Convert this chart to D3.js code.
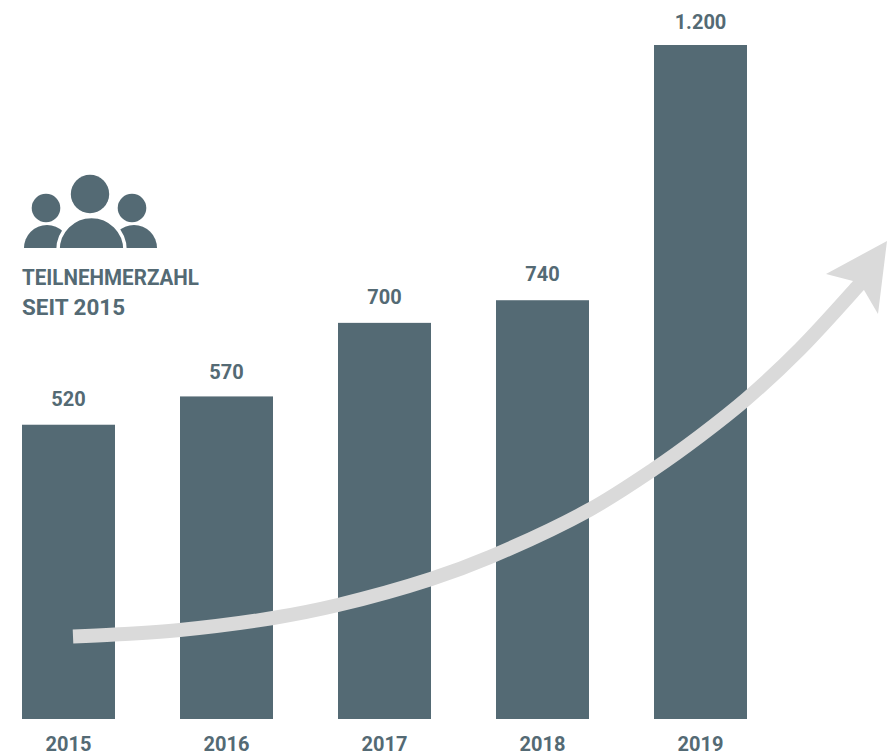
<!DOCTYPE html>
<html>
<head>
<meta charset="utf-8">
<script src="https://cdn.jsdelivr.net/npm/d3@7"></script>
<style>
html, body { margin: 0; padding: 0; background: #fff; overflow: hidden; }
svg { display: block; }
text { font-family: Roboto, sans-serif; font-weight: 700; fill: #546a74; }
</style>
</head>
<body>
<script>
var width = 887,
    height = 752;

var years = ["2015", "2016", "2017", "2018", "2019"];
var barValues = [520, 570, 700, 740, 1191]; // measured from bar lengths, the last bar is a bit short of its label
var barLabels = ["520", "570", "700", "740", "1.200"];
var labelGaps = [19, 17, 19, 19, 16];

// Trend arrow, pixels
var trendX = [73, 115, 180, 273, 338, 431, 490, 589, 654, 700, 747, 800, 858, 872];
var trendY = [636.5, 634.5, 630, 618, 605, 579, 557, 510, 469, 436, 398.5, 349, 286, 270];
var headX = [887, 826, 853, 864, 878];
var headY = [241, 274, 281, 290, 314];

var barColor = "#546a74",
    arrowColor = "#dadada";

var svg = d3.select("body").append("svg")
    .attr("width", width)
    .attr("height", height);

var x = d3.scaleBand()
    .domain(years)
    .range([22, 747])
    .paddingInner(65 / 158)
    .paddingOuter(0);

var y = d3.scaleLinear()
    .domain([0, 1191])
    .range([719, 45]);

// Bars
svg.selectAll("rect.bar")
    .data(years)
  .enter().append("rect")
    .attr("class", "bar")
    .attr("x", function(d) { return x(d); })
    .attr("y", function(d, i) { return y(barValues[i]); })
    .attr("width", x.bandwidth())
    .attr("height", function(d, i) { return y(0) - y(barValues[i]); })
    .attr("fill", barColor);

// Value labels
svg.selectAll("text.value")
    .data(barLabels)
  .enter().append("text")
    .attr("class", "value")
    .attr("x", function(d, i) { return x(years[i]) + x.bandwidth() / 2; })
    .attr("y", function(d, i) { return y(barValues[i]) - labelGaps[i]; })
    .attr("text-anchor", "middle")
    .attr("font-size", 20)
    .text(function(d) { return d; });

// Year labels
svg.selectAll("text.year")
    .data(years)
  .enter().append("text")
    .attr("class", "year")
    .attr("x", function(d) { return x(d) + x.bandwidth() / 2; })
    .attr("y", 750.5)
    .attr("text-anchor", "middle")
    .attr("font-size", 20)
    .text(function(d) { return d; });

// Arrow
var line = d3.line()
    .x(function(d) { return d[0]; })
    .y(function(d) { return d[1]; })
    .curve(d3.curveCatmullRom);

svg.append("path")
    .attr("d", line(d3.zip(trendX, trendY)))
    .attr("fill", "none")
    .attr("stroke", arrowColor)
    .attr("stroke-width", 14);

svg.append("polygon")
    .attr("points", d3.zip(headX, headY).map(function(p) { return p.join(","); }).join(" "))
    .attr("fill", arrowColor);

// People icon
var icon = svg.append("g").attr("fill", barColor);
var halfDisc = d3.arc()
    .innerRadius(0)
    .startAngle(-Math.PI / 2)
    .endAngle(Math.PI / 2);

icon.append("circle").attr("cx", 46).attr("cy", 208).attr("r", 14.3);
icon.append("circle").attr("cx", 132).attr("cy", 208).attr("r", 14.3);
icon.append("circle").attr("cx", 90).attr("cy", 194).attr("r", 19.2);
icon.append("path")
    .attr("transform", "translate(47,248)")
    .attr("d", halfDisc({outerRadius: 23}));
icon.append("path")
    .attr("transform", "translate(134,248)")
    .attr("d", halfDisc({outerRadius: 23}));
icon.append("path")
    .attr("transform", "translate(91.5,250)")
    .attr("d", halfDisc({outerRadius: 33.5}))
    .attr("stroke", "#fff")
    .attr("stroke-width", 3.5);
icon.append("rect")
    .attr("x", 20).attr("y", 248).attr("width", 145).attr("height", 6)
    .attr("fill", "#fff");

// Title
svg.append("text").attr("x", 22).attr("y", 285).attr("font-size", 22)
    .attr("textLength", 177).attr("lengthAdjust", "spacingAndGlyphs")
    .text("TEILNEHMERZAHL");
svg.append("text").attr("x", 22).attr("y", 315).attr("font-size", 22)
    .attr("textLength", 103).attr("lengthAdjust", "spacingAndGlyphs")
    .text("SEIT 2015");
</script>
</body>
</html>
